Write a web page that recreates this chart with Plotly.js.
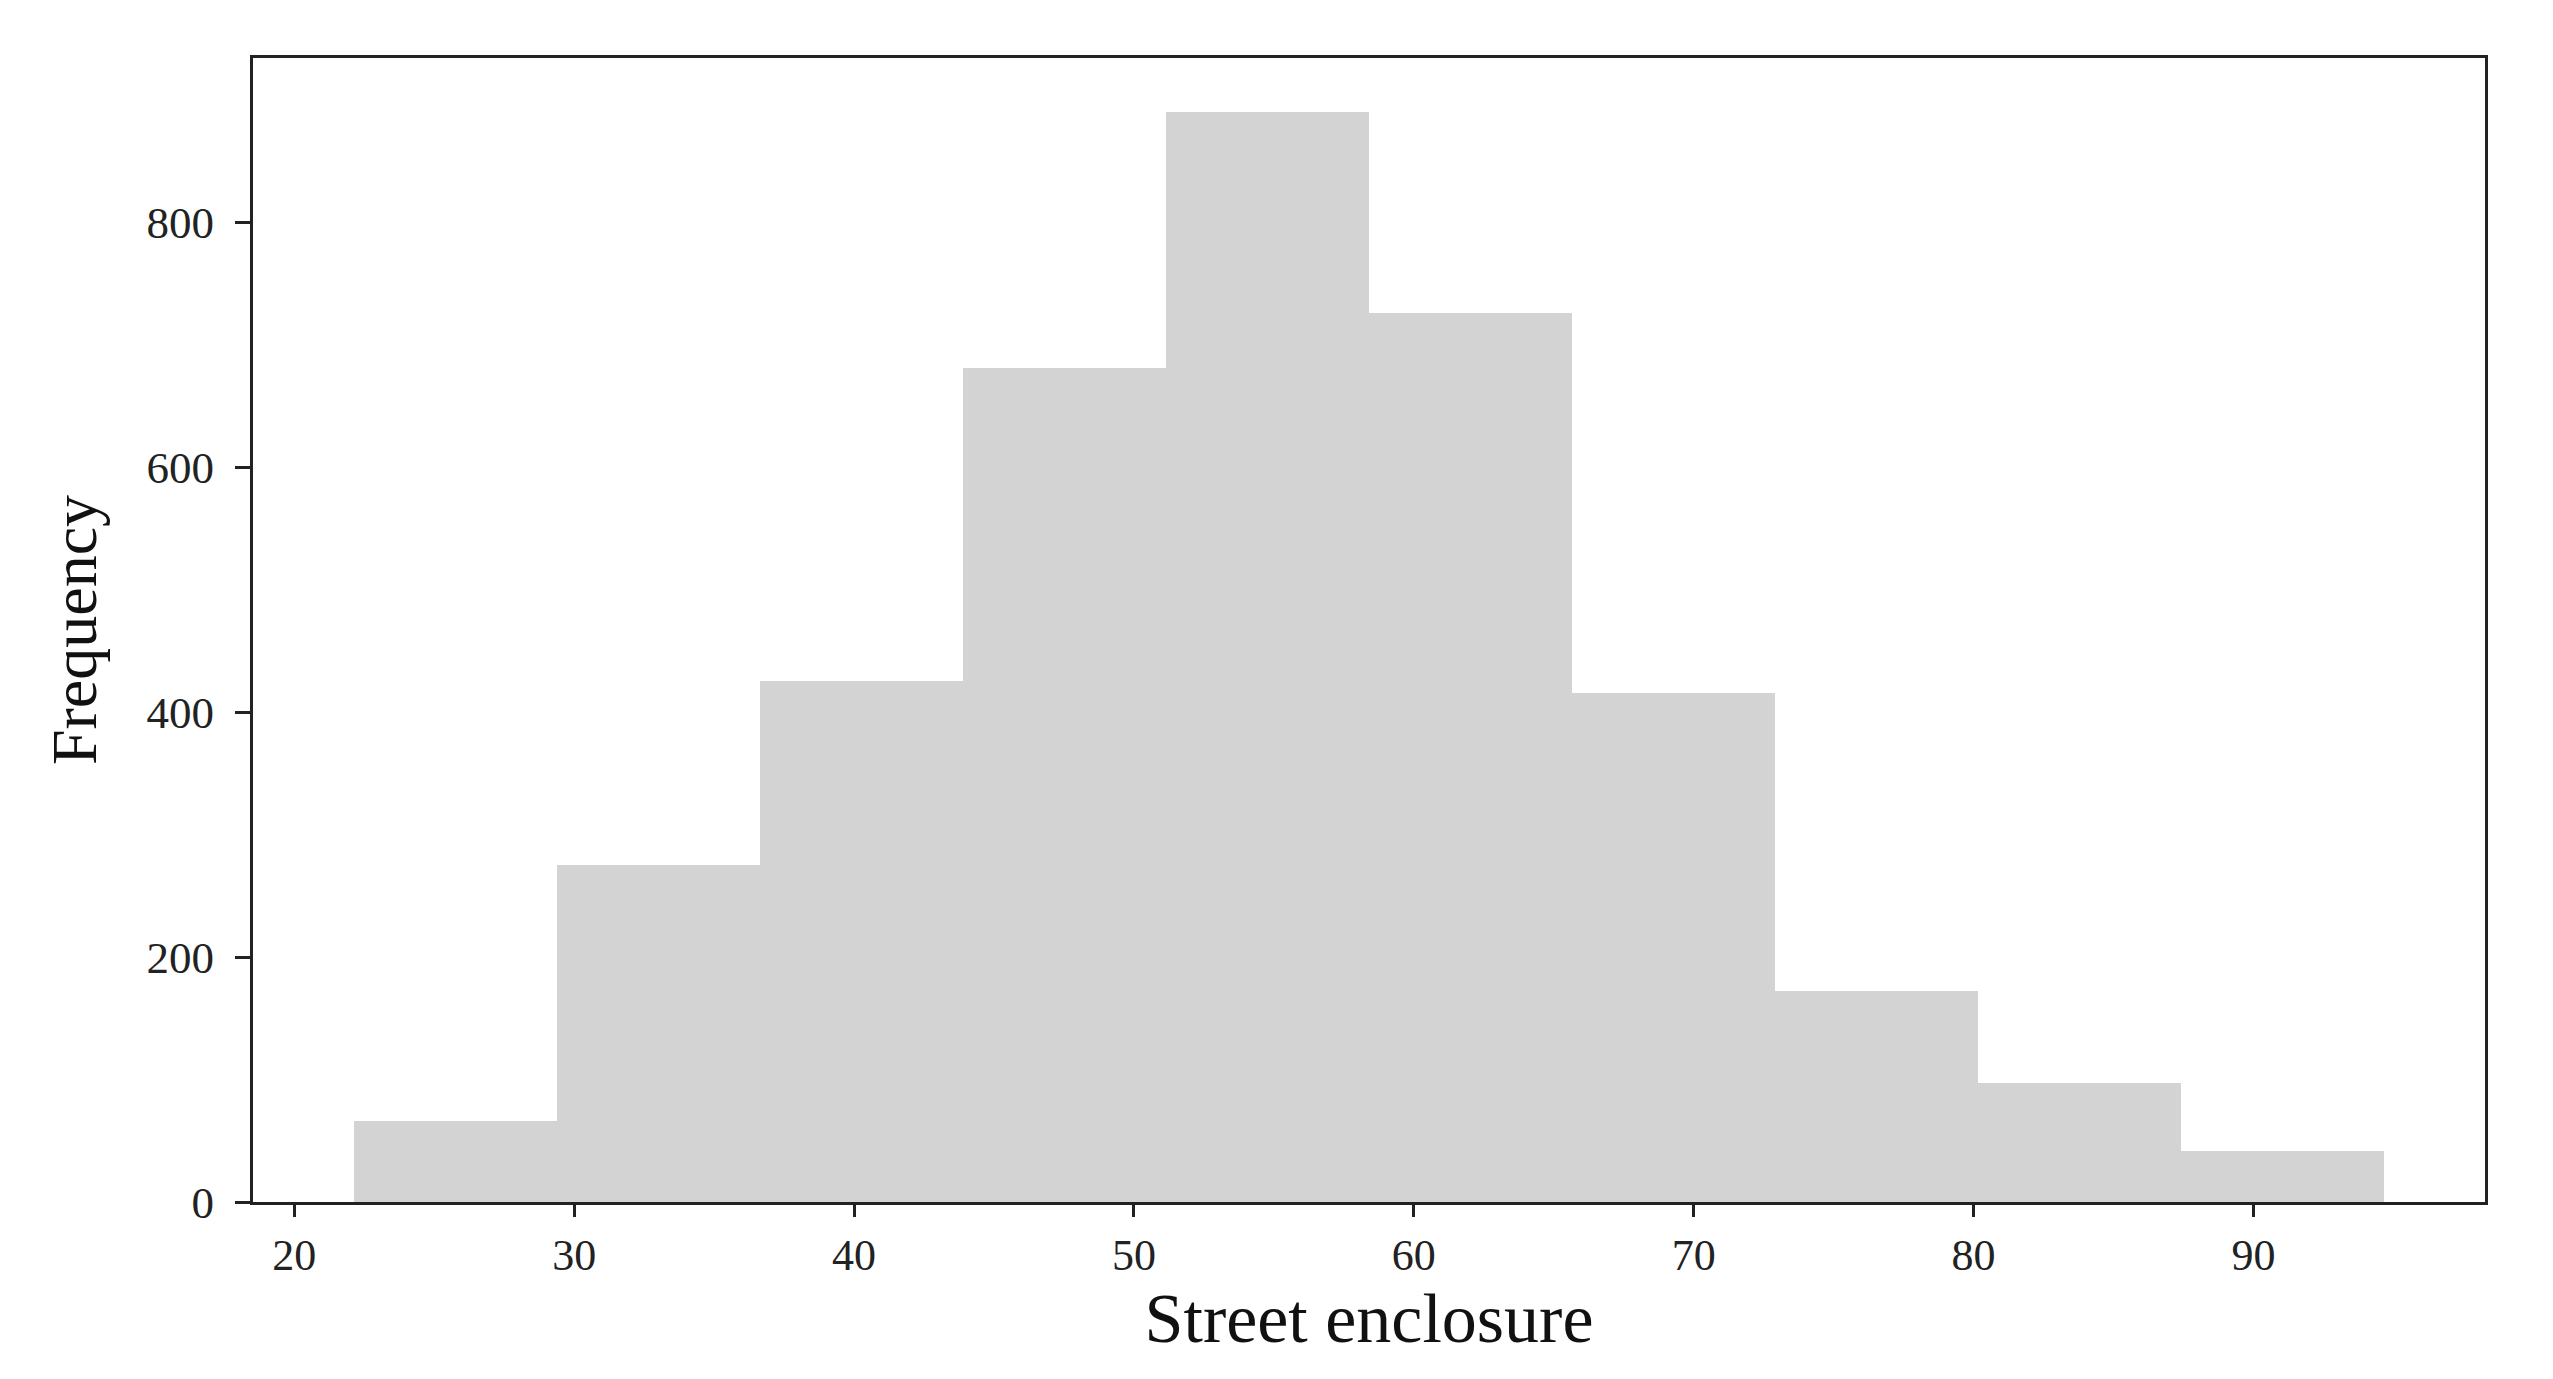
<!DOCTYPE html>
<html>
<head>
<meta charset="utf-8">
<script src="https://cdn.plot.ly/plotly-3.0.1.min.js"></script>
<style>
  html, body { margin: 0; padding: 0; background: #ffffff; }
  #chart { width: 2553px; height: 1379px; }
</style>
</head>
<body>
<div id="chart"></div>
<script>
// Histogram of street enclosure, 10 bins
const binEdges = [22.15, 29.4, 36.65, 43.9, 51.15, 58.4, 65.65, 72.9, 80.15, 87.4, 94.65];
const counts   = [66, 275, 426, 681, 890, 726, 416, 172, 97, 42];
const xTicks   = [20, 30, 40, 50, 60, 70, 80, 90];
const yTicks   = [0, 200, 400, 600, 800];

const centers = [], widths = [];
for (let i = 0; i < counts.length; i++) {
  centers.push((binEdges[i] + binEdges[i + 1]) / 2);
  widths.push(binEdges[i + 1] - binEdges[i]);
}

// matplotlib-like 5% padding on x, top padding on y
const span = binEdges[binEdges.length - 1] - binEdges[0];
const xRange = [binEdges[0] - 0.05 * span, binEdges[binEdges.length - 1] + 0.05 * span];
const yRange = [0, Math.max(...counts) * 1.05];

const serif = 'Liberation Serif, Times New Roman, serif';
const axisColor = '#222222';

const bars = {
  type: 'bar',
  x: centers,
  y: counts,
  width: widths,
  marker: { color: '#d3d3d3', line: { width: 0 } },
  hoverinfo: 'x+y'
};

const layout = {
  width: 2553,
  height: 1379,
  paper_bgcolor: '#ffffff',
  plot_bgcolor: '#ffffff',
  margin: { l: 253, r: 68, t: 58, b: 177 },
  showlegend: false,
  bargap: 0,
  font: { family: serif, color: '#222222' },
  xaxis: {
    range: xRange,
    tickvals: xTicks,
    ticktext: xTicks.map(String),
    ticks: 'outside',
    ticklen: 12,
    tickwidth: 3,
    tickcolor: axisColor,
    tickfont: { family: serif, size: 44, color: '#222222' },
    showline: true,
    linecolor: axisColor,
    linewidth: 3,
    mirror: true,
    showgrid: false,
    zeroline: false,
    title: { text: 'Street enclosure', font: { family: serif, size: 70, color: '#111111' }, standoff: 12 }
  },
  yaxis: {
    range: yRange,
    tickvals: yTicks,
    ticktext: yTicks.map(String),
    ticks: 'outside',
    ticklen: 15,
    tickwidth: 3,
    tickcolor: axisColor,
    tickfont: { family: serif, size: 45, color: '#222222' },
    ticklabelstandoff: 12,
    showline: true,
    linecolor: axisColor,
    linewidth: 3,
    mirror: true,
    showgrid: false,
    zeroline: false,
    title: { text: 'Frequency', font: { family: serif, size: 64, color: '#111111' }, standoff: 30 }
  }
};

Plotly.newPlot('chart', [bars], layout, { displayModeBar: false, responsive: false });
</script>
</body>
</html>
